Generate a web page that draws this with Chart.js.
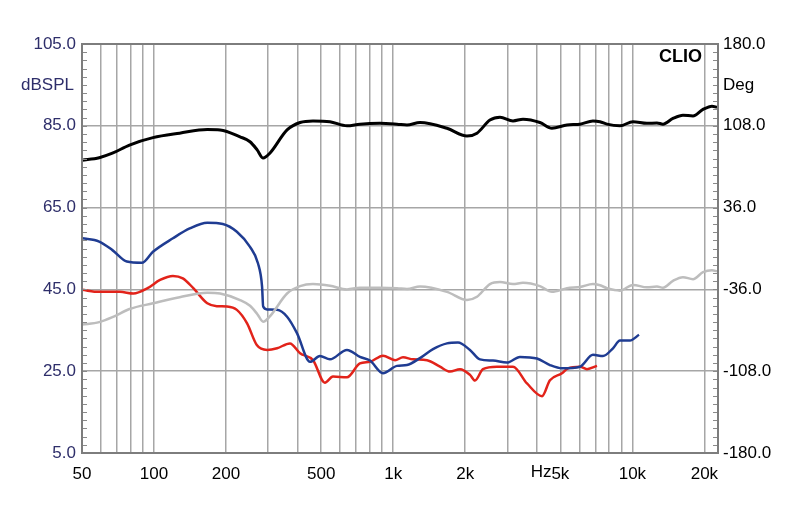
<!DOCTYPE html>
<html>
<head>
<meta charset="utf-8">
<script src="https://cdn.jsdelivr.net/npm/chart.js@4.4.0/dist/chart.umd.min.js"></script>
<style>
  html, body { margin: 0; padding: 0; background: #fff; }
  #wrap { width: 800px; height: 512px; }
</style>
</head>
<body>
<div id="wrap"><canvas id="clioChart" width="800" height="512"></canvas></div>
<script>
// frequency response (black) + its offset copy (gray)
const splFreq = [50, 59, 67, 79, 99, 128, 167, 189, 229, 252, 270, 286, 305, 360, 408, 462, 544, 641, 726, 880,
  1037, 1142, 1294, 1678, 2035, 2240, 2538, 2796, 3169, 3489, 4107, 4610, 5330, 6039, 6843, 7321, 7831, 8874, 10058, 11507,
  12669, 13423, 14781, 16275, 17920, 19733, 21514, 22580];
const splDb = [76.6, 77.2, 78.3, 80.3, 82.1, 83.2, 84.1, 84.0, 82.3, 81.1, 79.1, 77.1, 78.3, 84.0, 85.8, 86.2, 86.0, 85.0, 85.4, 85.6,
  85.4, 85.2, 85.8, 84.4, 82.5, 83.2, 86.4, 87.1, 86.2, 86.6, 85.8, 84.4, 85.2, 85.4, 86.2, 86.0, 85.4, 85.0, 86.0, 85.6,
  85.7, 85.4, 86.8, 87.6, 87.4, 89.0, 89.8, 89.5];
const grayDb = [36.4, 37.0, 38.2, 40.2, 41.6, 43.1, 44.2, 44.0, 42.4, 41.0, 39.0, 37.1, 38.4, 44.0, 45.8, 46.3, 45.9, 45.0, 45.4, 45.4,
  45.3, 45.1, 45.7, 44.4, 42.4, 43.2, 46.3, 46.8, 46.3, 46.6, 45.8, 44.4, 45.3, 45.6, 46.3, 46.0, 45.3, 44.7, 46.1, 45.5,
  45.7, 45.4, 47.1, 48.0, 47.5, 49.2, 49.7, 49.4];

// blue curve
const blueFreq = [50, 59, 67, 77, 89, 99, 120, 141, 167, 194, 222, 252, 272, 283, 286, 297, 327, 360, 396, 449,
  494, 544, 641, 726, 800, 906, 1037, 1142, 1294, 1467, 1678, 1866, 2094, 2306, 2614, 2990, 3389, 3993, 4522, 5078,
  6039, 6843, 7536, 8296, 8874, 9772, 10660];
const blueDb = [57.5, 56.7, 54.6, 51.8, 51.5, 54.2, 57.5, 59.9, 61.3, 61.0, 59.1, 55.4, 51.4, 45.7, 40.8, 40.1, 40.0, 38.3, 34.3, 27.3,
  28.7, 27.9, 30.2, 28.5, 27.6, 24.5, 26.3, 26.5, 28.2, 30.4, 31.8, 32.0, 30.2, 27.9, 27.6, 27.1, 28.5, 28.1, 26.5, 25.7,
  26.1, 29.0, 28.7, 30.6, 32.5, 32.5, 33.9];

// red curve
const redFreq = [50, 59, 72, 82, 94, 106, 120, 132, 146, 167, 183, 202, 222, 245, 269, 297, 327, 370, 408, 462,
  518, 560, 641, 726, 800, 906, 1018, 1099, 1210, 1385, 1569, 1728, 1902, 2094, 2198, 2373, 2716, 3169, 3626, 4190,
  4522, 5078, 5380, 6039, 6460, 7112];
const redDb = [44.9, 44.4, 44.4, 44.0, 45.3, 47.3, 48.3, 47.7, 45.3, 41.6, 40.9, 40.8, 40.0, 36.7, 31.4, 30.2, 30.6, 31.8, 29.4, 27.7,
  22.2, 23.7, 23.5, 26.9, 27.3, 28.8, 27.7, 28.4, 27.9, 27.7, 26.1, 24.9, 25.5, 24.1, 22.7, 25.5, 26.1, 26.1, 22.0, 18.9,
  22.8, 24.5, 25.7, 26.1, 25.5, 26.3];

// axes
const xGridValues = [50, 60, 70, 80, 90, 100, 200, 300, 400, 500, 600, 700, 800, 900, 1000,
  2000, 3000, 4000, 5000, 6000, 7000, 8000, 9000, 10000, 20000];
const xTickValues = [50, 100, 200, 500, 1000, 2000, 5000, 10000, 20000];
const xTickLabels = ['50', '100', '200', '500', '1k', '2k', '5k', '10k', '20k'];
const dbTicks = [5, 25, 45, 65, 85, 105];
const degTicks = [-180, -108, -36, 36, 108, 180];

const FONT = "'Liberation Sans', Arial, sans-serif";
const NAVY = '#2e2e6a';
const GRID = '#a6a6a6';

function pts(xs, ys) {
  return xs.map((x, i) => ({ x: x, y: ys[i] }));
}

const decor = {
  id: 'decor',
  afterDraw(chart) {
    const ctx = chart.ctx;
    const a = chart.chartArea;
    const yS = chart.scales.y;
    const xS = chart.scales.x;
    ctx.save();
    // minor ticks on both sides
    ctx.strokeStyle = '#8a8a8a';
    ctx.lineWidth = 1;
    for (let v = 7; v < 105; v += 2) {
      const py = Math.round(yS.getPixelForValue(v)) + 0.5;
      ctx.beginPath();
      ctx.moveTo(a.left, py); ctx.lineTo(a.left + 5, py);
      ctx.moveTo(a.right - 5, py); ctx.lineTo(a.right, py);
      ctx.stroke();
    }
    // frame
    ctx.strokeStyle = '#7d7d7d';
    ctx.lineWidth = 2;
    ctx.strokeRect(a.left, a.top, a.right - a.left, a.bottom - a.top);

    ctx.textBaseline = 'middle';
    ctx.font = '17px ' + FONT;
    ctx.fillStyle = NAVY;
    ctx.textAlign = 'right';
    ctx.fillText('dBSPL', 74, 85);
    ctx.fillStyle = '#000';
    ctx.textAlign = 'left';
    ctx.fillText('Deg', 723, 85);
    // "Hz" just in front of the 5k label
    const w5k = ctx.measureText('5k').width;
    ctx.textAlign = 'right';
    ctx.textBaseline = 'top';
    ctx.fillText('Hz', xS.getPixelForValue(5000) - w5k / 2, a.bottom + 11);
    ctx.font = 'bold 18px ' + FONT;
    ctx.textBaseline = 'middle';
    ctx.fillText('CLIO', 702, 57);
    ctx.restore();
  }
};

new Chart(document.getElementById('clioChart'), {
  type: 'line',
  data: {
    datasets: [
      { data: pts(splFreq, grayDb), borderColor: '#bdbdbd', borderWidth: 2.5, yAxisID: 'y' },
      { data: pts(splFreq, splDb), borderColor: '#000000', borderWidth: 3, yAxisID: 'y' },
      { data: pts(blueFreq, blueDb), borderColor: '#1f3c92', borderWidth: 2.5, yAxisID: 'y' },
      { data: pts(redFreq, redDb), borderColor: '#e2231a', borderWidth: 2.5, yAxisID: 'y' }
    ]
  },
  options: {
    responsive: false,
    animation: false,
    elements: {
      point: { radius: 0 },
      line: { cubicInterpolationMode: 'monotone', fill: false }
    },
    layout: { padding: { top: 44, left: 0, right: 0, bottom: 0 } },
    plugins: { legend: { display: false }, tooltip: { enabled: false } },
    scales: {
      x: {
        type: 'logarithmic',
        min: 50,
        max: 22800,
        afterBuildTicks(scale) {
          scale.ticks = xGridValues.map(v => ({ value: v }));
        },
        afterFit(scale) { scale.height = 59; },
        grid: { color: GRID, lineWidth: 1.5, drawTicks: false },
        border: { display: false },
        ticks: {
          autoSkip: false,
          maxRotation: 0,
          padding: 11,
          color: '#000',
          font: { family: FONT, size: 17 },
          callback(value) {
            const i = xTickValues.indexOf(value);
            return i >= 0 ? xTickLabels[i] : '';
          }
        }
      },
      y: {
        position: 'left',
        min: 5,
        max: 105,
        afterBuildTicks(scale) {
          scale.ticks = dbTicks.map(v => ({ value: v }));
        },
        afterFit(scale) { scale.width = 82; },
        grid: { color: GRID, lineWidth: 1.5, drawTicks: false },
        border: { display: false },
        ticks: {
          padding: 6,
          color: NAVY,
          font: { family: FONT, size: 17 },
          callback(value) { return value.toFixed(1); }
        }
      },
      y2: {
        position: 'right',
        min: -180,
        max: 180,
        afterBuildTicks(scale) {
          scale.ticks = degTicks.map(v => ({ value: v }));
        },
        afterFit(scale) { scale.width = 82; },
        grid: { display: false, drawTicks: false },
        border: { display: false },
        ticks: {
          padding: 5,
          color: '#000',
          font: { family: FONT, size: 17 },
          callback(value) { return value.toFixed(1); }
        }
      }
    }
  },
  plugins: [decor]
});
</script>
</body>
</html>
